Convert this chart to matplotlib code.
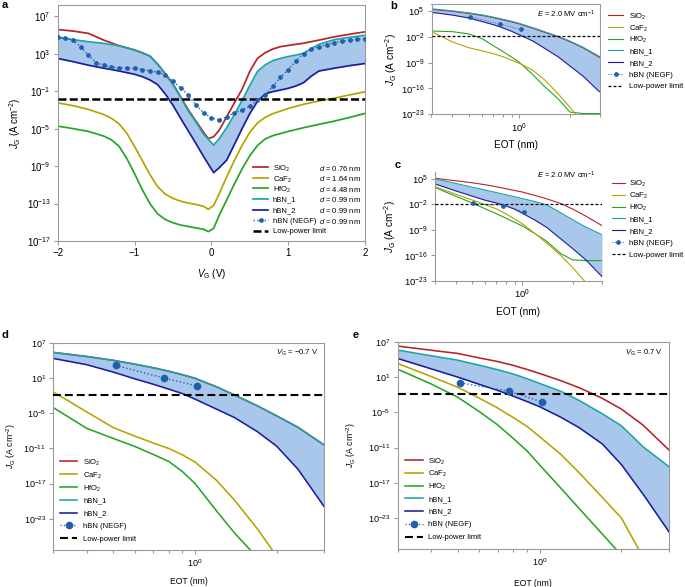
import numpy as np
import matplotlib
matplotlib.use("Agg")
import matplotlib.pyplot as plt
from matplotlib.lines import Line2D
from matplotlib.ticker import NullFormatter, NullLocator, FixedLocator

plt.rcParams['font.family'] = ['Liberation Sans', 'DejaVu Sans']
plt.rcParams['mathtext.fontset'] = 'custom'
plt.rcParams['mathtext.rm'] = 'Liberation Sans'
plt.rcParams['mathtext.it'] = 'Liberation Sans:italic'
plt.rcParams['mathtext.bf'] = 'Liberation Sans:bold'
plt.rcParams['mathtext.sf'] = 'Liberation Sans'

# ------------------------------------------------------------------ data
J_LIMIT = 1.5e-2  # low-power limit (A cm^-2)

# panel a : J_G versus V_G, values are log10(J_G / A cm^-2)
v_sio2_a = [-2.0, -1.8, -1.6, -1.4, -1.2, -1.0, -0.9, -0.8, -0.7, -0.6, -0.5, -0.4, -0.3, -0.2, -0.1,
            -0.04, 0.03, 0.1, 0.2, 0.3, 0.4, 0.5, 0.6, 0.7, 0.8, 0.9, 1.0, 1.2, 1.4, 1.6, 1.8, 2.0]
log_sio2_a = [5.58, 5.42, 5.17, 4.45, 3.85, 3.4, 3.1, 2.75, 1.9, 0.85, -0.25, -1.6, -3.0, -4.2, -5.4,
              -6.05, -5.87, -5.2, -3.74, -2.25, -0.8, 1.1, 2.5, 3.1, 3.5, 3.75, 3.88, 4.12, 4.45, 4.8, 5.08, 5.33]

v_oxide_a = [-2.0, -1.8, -1.6, -1.4, -1.3, -1.2, -1.1, -1.0, -0.9, -0.8, -0.7, -0.6, -0.5, -0.4, -0.3, -0.2,
             -0.1, -0.04, 0.03, 0.1, 0.2, 0.3, 0.4, 0.5, 0.6, 0.7, 0.8, 1.0, 1.2, 1.4, 1.6, 1.8, 2.0]
log_caf2_a = [-2.25, -2.55, -2.95, -3.5, -3.9, -4.5, -5.5, -6.9, -8.4, -9.9, -11.2, -12.0, -12.45, -12.75,
              -12.95, -13.1, -13.3, -13.62, -13.2, -12.0, -10.14, -8.4, -6.8, -5.4, -4.4, -3.8, -3.4,
              -2.85, -2.4, -2.05, -1.75, -1.4, -1.07]
log_hfo2_a = [-4.73, -5.0, -5.3, -5.8, -6.2, -6.9, -8.2, -9.8, -11.5, -13.0, -14.1, -14.7, -15.05, -15.3,
              -15.45, -15.6, -15.75, -16.0, -15.65, -14.3, -12.6, -10.9, -9.3, -7.9, -6.8, -6.1, -5.75,
              -5.3, -4.9, -4.55, -4.2, -3.8, -3.38]

v_hbn_a = [-2.0, -1.8, -1.6, -1.4, -1.2, -1.0, -0.9, -0.8, -0.7, -0.6, -0.5, -0.4, -0.3, -0.2, -0.1, 0.03,
           0.1, 0.2, 0.3, 0.4, 0.5, 0.6, 0.7, 0.8, 0.9, 1.0, 1.1, 1.2, 1.3, 1.4, 1.6, 1.8, 2.0]
log_hbn1_a = [4.73, 4.5, 4.28, 4.1, 3.85, 3.4, 3.1, 2.75, 1.9, 0.85, -0.25, -1.65, -3.1, -4.3, -5.6, -6.76,
              -6.1, -4.9, -3.5, -2.0, -0.4, 1.1, 1.8, 2.25, 2.5, 2.7, 2.85, 3.05, 3.55, 4.0, 4.5, 4.75, 4.97]
log_hbn2_a = [2.49, 2.15, 1.77, 1.45, 1.15, 0.8, 0.55, 0.2, -0.3, -1.3, -2.5, -3.9, -5.25, -6.6, -8.0, -9.7,
              -9.2, -8.36, -6.7, -5.0, -3.4, -2.1, -1.3, -1.05, -0.88, -0.7, -0.45, -0.1, 0.6, 1.15, 1.45,
              1.72, 1.95]

v_negf_a = [-2.0, -1.9, -1.8, -1.7, -1.6, -1.5, -1.4, -1.3, -1.2, -1.1, -1.0, -0.9, -0.8, -0.7, -0.6, -0.5,
            -0.4, -0.3, -0.2, -0.1, 0.0, 0.1, 0.2, 0.3, 0.4, 0.5, 0.6, 0.7, 0.8, 0.9, 1.0, 1.1, 1.2, 1.3,
            1.4, 1.5, 1.6, 1.7, 1.8, 1.9, 2.0]
log_negf_a = [4.73, 4.69, 4.44, 3.73, 2.84, 2.06, 1.77, 1.59, 1.49, 1.49, 1.42, 1.31, 1.17, 1.03, 0.71,
              0.07, -0.65, -1.43, -2.49, -3.3, -3.85, -4.1, -3.74, -3.31, -3.03, -2.6, -1.96, -1.43,
              -0.47, 0.46, 1.31, 2.23, 3.02, 3.45, 3.73, 3.98, 4.19, 4.33, 4.44, 4.55, 4.62]

# panels b-e : J_G versus EOT (nm), values are log10(J_G / A cm^-2)
eot = [0.3, 0.4, 0.5, 0.6, 0.7, 0.8, 0.9, 1.0, 1.2, 1.4, 1.7, 2.0, 2.4, 3.0]
eot_negf = [0.51, 0.77, 1.02]

# b : E = 2.0 MV/cm (first model)
log_sio2_b = [5.45, 4.9, 4.35, 3.8, 3.2, 2.6, 2.05, 1.5, 0.35, -0.7, -2.0, -3.3, -5.0, -7.56]
log_caf2_b = [-0.6, -3.4, -4.95, -5.8, -6.55, -7.4, -8.35, -9.2, -11.0, -13.5, -17.4, -21.1, -25.5, -31.0]
log_hfo2_b = [-0.42, -0.6, -1.2, -2.5, -4.4, -6.0, -7.5, -8.9, -12.2, -15.3, -18.8, -22.4, -22.8, -22.8]
log_hbn1_b = [5.6, 5.05, 4.5, 3.95, 3.35, 2.75, 2.2, 1.65, 0.5, -0.55, -1.85, -3.15, -4.85, -7.35]
log_hbn2_b = [4.64, 3.9, 3.1, 2.15, 1.3, 0.4, -0.5, -1.45, -3.1, -5.0, -7.4, -9.9, -12.7, -16.9]
log_negf_b = [3.46, 1.39, 0.03]

# c : E = 2.0 MV/cm (second model)
log_sio2_c = [5.18, 4.5, 3.95, 3.4, 2.85, 2.3, 1.83, 1.41, 0.43, -0.45, -1.75, -3.25, -5.2, -7.8]
log_caf2_c = [2.9, 0.8, -0.75, -2.1, -3.2, -4.6, -6.0, -7.3, -10.1, -12.6, -16.0, -19.3, -23.4, -29.0]
log_hfo2_c = [2.64, 0.25, -1.6, -3.2, -4.55, -5.8, -6.9, -7.9, -10.1, -12.1, -15.5, -17.2, -17.4, -17.4]
log_hbn1_c = [5.0, 3.75, 2.75, 1.95, 1.25, 0.65, 0.1, -0.4, -1.25, -2.1, -4.3, -6.2, -8.2, -10.3]
log_hbn2_c = [3.64, 1.7, 0.3, -0.85, -1.6, -2.4, -3.3, -4.4, -6.4, -8.3, -11.45, -14.1, -17.2, -21.8]
log_negf_c = [-1.7, -2.3, -4.0]

# d : V_G = -0.7 V
log_sio2_d = [5.35, 4.65, 4.0, 3.35, 2.75, 2.15, 1.55, 0.95, -0.5, -1.9, -3.75, -5.45, -7.4, -10.44]
log_caf2_d = [-1.35, -4.8, -7.45, -8.9, -10.05, -11.0, -12.1, -13.3, -16.4, -19.8, -24.7, -29.3, -34.0, -40.0]
log_hfo2_d = [-4.02, -7.6, -9.3, -10.65, -12.0, -13.2, -14.95, -16.95, -21.6, -25.4, -29.6, -33.5, -38.0, -45.0]
log_hbn1_d = [5.35, 4.65, 4.0, 3.35, 2.75, 2.15, 1.55, 0.95, -0.5, -1.9, -3.75, -5.45, -7.4, -10.44]
log_hbn2_d = [4.33, 3.25, 2.0, 0.85, -0.05, -0.9, -1.66, -2.6, -4.3, -5.75, -8.15, -10.6, -14.55, -20.95]
log_negf_d = [3.14, 0.98, -0.39]

# e : V_G = 0.7 V
log_sio2_e = [6.26, 5.54, 5.0, 4.24, 3.63, 2.97, 2.27, 1.6, 0.35, -0.83, -2.63, -4.46, -7.17, -11.47]
log_caf2_e = [3.31, 1.06, -0.75, -2.6, -4.26, -5.9, -7.42, -9.15, -12.2, -15.3, -19.46, -23.0, -29.6, -38.0]
log_hfo2_e = [2.34, -0.21, -2.45, -4.89, -7.13, -9.45, -11.59, -13.96, -17.96, -21.4, -25.7, -29.3, -34.0, -40.0]
log_hbn1_e = [5.58, 4.6, 3.85, 3.0, 2.25, 1.5, 0.7, -0.1, -1.45, -3.0, -5.25, -7.3, -10.85, -14.3]
log_hbn2_e = [4.16, 2.37, 0.98, -0.25, -1.27, -2.26, -3.19, -4.05, -5.87, -7.64, -10.38, -13.9, -18.9, -25.4]
log_negf_e = [0.01, -1.41, -3.23]

legend_names = ['SiO$_2$', 'CaF$_2$', 'HfO$_2$', 'hBN_1', 'hBN_2', 'hBN (NEGF)', 'Low-power limit']
thickness_labels = ['0.76', '1.64', '4.48', '0.99', '0.99', '0.99']

# ------------------------------------------------------------------ style
C_SIO2 = '#b8222a'
C_CAF2 = '#b5a300'
C_HFO2 = '#25a525'
C_HBN1 = '#1ba5a8'
C_HBN2 = '#1c1ca0'
C_NEGF = '#1f5fae'
C_FILL = '#a9c7eb'
GREY = '#9a9a9a'
MINUS = '\u2212'

W, H = 685, 587
fig = plt.figure(figsize=(W / 100, H / 100), dpi=100)


def axes_px(l, t, r, b):
    return fig.add_axes([l / W, 1 - b / H, (r - l) / W, (b - t) / H])


def J(vals):
    return 10.0 ** np.asarray(vals, dtype=float)


def style_axes(ax, fs):
    for s in ax.spines.values():
        s.set_color(GREY)
        s.set_linewidth(0.8)
    ax.tick_params(which='both', direction='out', color=GREY, labelsize=fs, width=0.8, pad=2)
    ax.tick_params(which='major', length=3)
    ax.tick_params(which='minor', length=2)


def eot_axis(ax):
    ax.set_xscale('log')
    ax.set_yscale('log')
    ax.set_xlim(0.3, 3.0)
    ax.xaxis.set_major_locator(FixedLocator([1.0]))
    ax.xaxis.set_minor_locator(FixedLocator([0.3, 0.4, 0.5, 0.6, 0.7, 0.8, 0.9, 2.0, 3.0]))
    ax.xaxis.set_minor_formatter(NullFormatter())
    ax.yaxis.set_minor_locator(NullLocator())


def manual_legend(x0, x1, xt, y0, dy, fs, lw, ms, ldash, extra=None):
    styles = [dict(color=C_SIO2, lw=lw), dict(color=C_CAF2, lw=lw), dict(color=C_HFO2, lw=lw),
              dict(color=C_HBN1, lw=lw), dict(color=C_HBN2, lw=lw)]
    for i, name in enumerate(legend_names):
        y = 1 - (y0 + i * dy) / H
        if i < 5:
            fig.add_artist(Line2D([x0 / W, x1 / W], [y, y], transform=fig.transFigure, **styles[i]))
        elif i == 5:
            fig.add_artist(Line2D([x0 / W, x1 / W], [y, y], transform=fig.transFigure,
                                  color=C_NEGF, lw=max(lw * 0.8, 0.7), ls=':'))
            fig.add_artist(Line2D([(x0 + x1) / 2 / W], [y], transform=fig.transFigure, ls='none',
                                  marker='o', ms=ms, color=C_NEGF))
        else:
            fig.add_artist(Line2D([x0 / W, x1 / W], [y, y], transform=fig.transFigure,
                                  color='k', lw=ldash[0], dashes=ldash[1]))
        fig.text(xt / W, y, name, fontsize=fs, ha='left', va='center_baseline')
        if extra is not None and i < 6:
            fig.text(extra / W, y, '$d$ = ' + thickness_labels[i] + ' nm', fontsize=fs,
                     ha='left', va='center_baseline')


# ------------------------------------------------------------------ panel a
ax = axes_px(57.7, 5, 365, 241)
style_axes(ax, 7)
ax.set_yscale('log')
ax.fill_between(v_hbn_a, J(log_hbn1_a), J(log_hbn2_a), color=C_FILL, lw=0, zorder=1)
lw = 1.25
ax.plot(v_oxide_a, J(log_hfo2_a), color=C_HFO2, lw=lw, zorder=2)
ax.plot(v_oxide_a, J(log_caf2_a), color=C_CAF2, lw=lw, zorder=2)
ax.plot(v_sio2_a, J(log_sio2_a), color=C_SIO2, lw=lw, zorder=2)
ax.plot(v_hbn_a, J(log_hbn2_a), color=C_HBN2, lw=lw, zorder=2)
ax.plot(v_hbn_a, J(log_hbn1_a), color=C_HBN1, lw=lw, zorder=2)
ax.axhline(J_LIMIT, color='k', lw=1.8, dashes=(3.2, 1.3), zorder=3)
ax.plot(v_negf_a, J(log_negf_a), color=C_NEGF, lw=1.0, ls=':', marker='o', ms=2.4, zorder=4)
ax.set_xlim(-2, 2)
ax.set_ylim(1e-17, 10 ** 8.2)
ax.set_xticks([-2, -1, 0, 1, 2])
ax.set_yticks([1e7, 1e3, 1e-1, 1e-5, 1e-9, 1e-13, 1e-17])
ax.yaxis.set_minor_locator(NullLocator())
ax.set_xlabel(r'$V_{\mathrm{G}}$ (V)', fontsize=7)
ax.set_ylabel(r'$J_{\mathrm{G}}$ (A cm$^{-2}$)', fontsize=7)
ax.xaxis.set_label_coords(0.5, -0.110)
ax.yaxis.set_label_coords(-0.114, 0.5)
manual_legend(253, 268, 272.7, 167.3, 10.55, 5.5, 1.25, 2.4, (1.8, (3.2, 1.3)), extra=319.3)


def eot_panel(rect, logs, negf, lw, ms, negf_lw, ldash, ylim, yticks, tfs, lfs):
    ax = axes_px(*rect)
    style_axes(ax, tfs)
    eot_axis(ax)
    s, c, h, b1, b2 = logs
    ax.fill_between(eot, J(b1), J(b2), color=C_FILL, lw=0, zorder=1)
    ax.plot(eot, J(h), color=C_HFO2, lw=lw, zorder=2)
    ax.plot(eot, J(c), color=C_CAF2, lw=lw, zorder=2)
    ax.plot(eot, J(s), color=C_SIO2, lw=lw, zorder=2)
    ax.plot(eot, J(b2), color=C_HBN2, lw=lw, zorder=2)
    ax.plot(eot, J(b1), color=C_HBN1, lw=lw, zorder=2)
    ax.axhline(J_LIMIT, color='k', lw=ldash[0], dashes=ldash[1], zorder=3)
    ax.plot(eot_negf, J(negf), color=C_NEGF, lw=negf_lw, ls=':', marker='o', ms=ms, zorder=4)
    ax.set_ylim(*ylim)
    ax.set_yticks(yticks)
    ax.yaxis.set_minor_locator(NullLocator())
    ax.set_xlabel('EOT (nm)', fontsize=lfs)
    ax.set_ylabel(r'$J_{\mathrm{G}}$ (A cm$^{-2}$)', fontsize=lfs)
    return ax


ticks_bc = [1e5, 1e-2, 1e-9, 1e-16, 1e-23]
ticks_de = [1e7, 1e1, 1e-5, 1e-11, 1e-17, 1e-23]

# ------------------------------------------------------------------ panel b
ax = eot_panel((431.5, 4, 599.5, 114.3),
               (log_sio2_b, log_caf2_b, log_hfo2_b, log_hbn1_b, log_hbn2_b), log_negf_b,
               0.8, 2.4, 0.7, (0.9, (2.4, 1.6)), (1e-23, 10 ** 6.9), ticks_bc, 6.8, 7.2)
ax.xaxis.set_label_coords(0.5, -0.2375)
ax.yaxis.set_label_coords(-0.192, 0.5)
manual_legend(608.3, 623.3, 629.3, 15, 11.83, 5.6, 0.8, 2.4, (0.9, (2.4, 1.6)))
fig.text(595 / W, 1 - 14 / H, r'$E$ = 2.0 MV cm$^{-1}$', fontsize=5.5, ha='right', va='center')

# ------------------------------------------------------------------ panel c
ax = eot_panel((435, 172, 602, 281),
               (log_sio2_c, log_caf2_c, log_hfo2_c, log_hbn1_c, log_hbn2_c), log_negf_c,
               0.8, 2.4, 0.7, (0.9, (2.4, 1.6)), (1e-23, 10 ** 6.9), ticks_bc, 6.8, 7.2)
ax.spines['top'].set_visible(False)
ax.spines['right'].set_visible(False)
ax.xaxis.set_label_coords(0.5, -0.234)
ax.yaxis.set_label_coords(-0.222, 0.5)
manual_legend(611.7, 625, 629, 182.7, 11.93, 5.6, 0.8, 2.4, (0.9, (2.4, 1.6)))
fig.text(595 / W, 1 - 175 / H, r'$E$ = 2.0 MV cm$^{-1}$', fontsize=5.5, ha='right', va='center')

# ------------------------------------------------------------------ panel d
ax = eot_panel((53, 342.7, 324.3, 550),
               (log_sio2_d, log_caf2_d, log_hfo2_d, log_hbn1_d, log_hbn2_d), log_negf_d,
               1.15, 4.5, 1.0, (1.5, (3.8, 1.9)), (10 ** -28.3, 1e7), ticks_de, 6.5, 6.2)
ax.xaxis.set_label_coords(0.5, -0.130)
ax.yaxis.set_label_coords(-0.128, 0.5)
manual_legend(60, 77.3, 83.3, 461.3, 12.8, 5.5, 1.15, 4.5, (1.5, (3.8, 1.9)))
fig.text(318 / W, 1 - 353 / H, r'$V_{\mathrm{G}}$ = ' + MINUS + '0.7 V', fontsize=5.5, ha='right', va='center')

# ------------------------------------------------------------------ panel e
ax = eot_panel((397.5, 341.7, 669.3, 549.3),
               (log_sio2_e, log_caf2_e, log_hfo2_e, log_hbn1_e, log_hbn2_e), log_negf_e,
               1.15, 4.5, 1.0, (1.5, (3.8, 1.9)), (10 ** -28.3, 1e7), ticks_de, 6.5, 6.2)
ax.xaxis.set_label_coords(0.5, -0.141)
ax.yaxis.set_label_coords(-0.145, 0.5)
manual_legend(405, 423, 428.3, 460, 12.78, 5.5, 1.15, 4.5, (1.5, (3.8, 1.9)))
fig.text(662.7 / W, 1 - 353 / H, r'$V_{\mathrm{G}}$ = 0.7 V', fontsize=5.5, ha='right', va='center')

# ------------------------------------------------------------------ panel letters
for lab, x, y in [('a', 2, 5), ('b', 390.7, 6), ('c', 395, 165), ('d', 2, 335), ('e', 353, 335)]:
    fig.text(x / W, 1 - y / H, lab, fontsize=8, fontweight='bold', ha='left', va='center')

fig.savefig('out.png', dpi=100, facecolor='white')
